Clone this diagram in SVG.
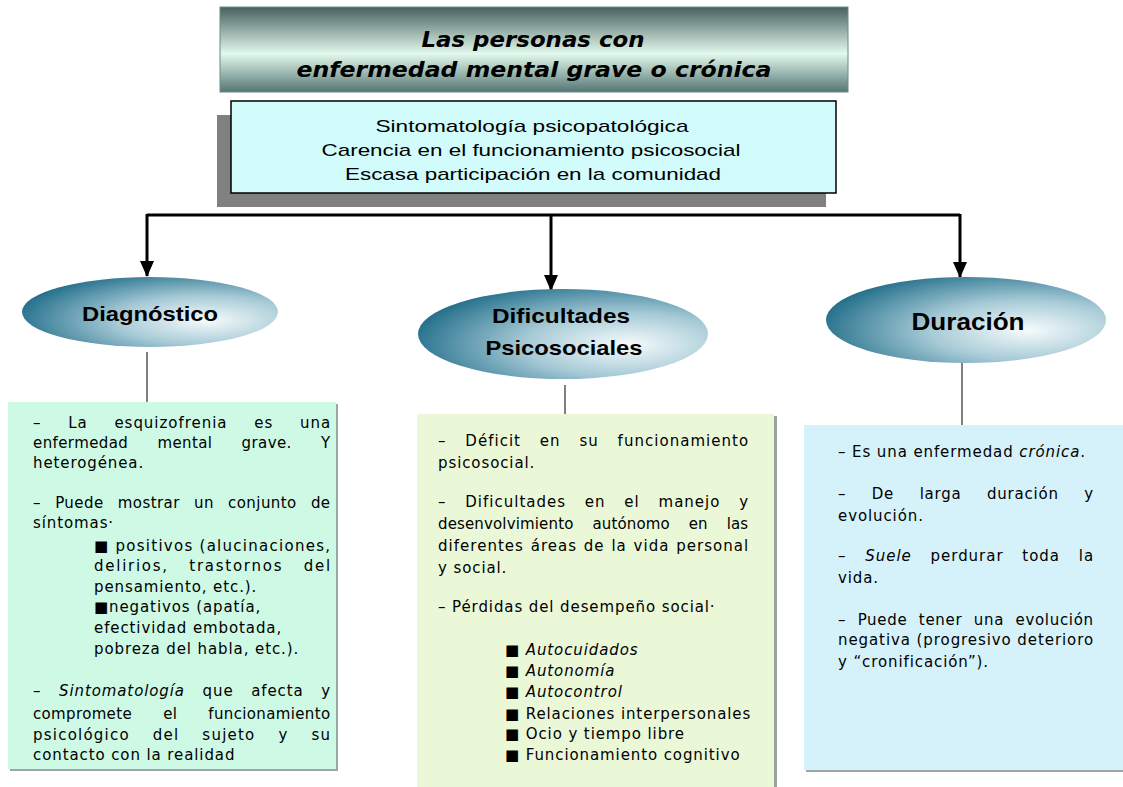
<svg xmlns="http://www.w3.org/2000/svg" width="1123" height="787" viewBox="0 0 1123 787">
<defs>
<linearGradient id="gTitle" x1="0" y1="0" x2="0" y2="1">
<stop offset="0" stop-color="#48605f"/>
<stop offset="0.55" stop-color="#e2faec"/>
<stop offset="1" stop-color="#557574"/>
</linearGradient>
<radialGradient id="gEll" cx="0.72" cy="0.62" r="0.78" fx="0.72" fy="0.62">
<stop offset="0" stop-color="#f6fbfc"/>
<stop offset="0.45" stop-color="#a6cad6"/>
<stop offset="1" stop-color="#1b6986"/>
</radialGradient>
<marker id="arrd" markerWidth="14" markerHeight="16" refX="7" refY="15" orient="0" markerUnits="userSpaceOnUse" viewBox="0 0 14 16">
<path d="M0,0 L14,0 L7,16 Z" fill="#000"/>
</marker>
</defs>
<style>
.t{font-family:"DejaVu Sans","Liberation Sans",sans-serif;font-size:15px;letter-spacing:0.9px;fill:#000}
.h{font-family:"Liberation Sans",Arial,sans-serif;font-weight:bold;fill:#000;text-anchor:middle}
.sub{font-family:"Liberation Sans",Arial,sans-serif;font-size:17px;fill:#000;text-anchor:middle}
.ttl{font-family:"DejaVu Sans","Liberation Sans",sans-serif;font-size:22px;font-weight:bold;font-style:italic;fill:#000;text-anchor:middle}
.conn{stroke:#000;stroke-width:3;fill:none}
.thin{stroke:#000;stroke-width:1;fill:none}
.i{font-style:italic}
</style>
<rect width="1123" height="787" fill="#fff"/>

<g id="title">
<rect x="220" y="7" width="628" height="85" fill="url(#gTitle)" stroke="#6f8a88" stroke-width="1"/>
<text class="ttl" x="533" y="47" textLength="223" lengthAdjust="spacingAndGlyphs">Las personas con</text>
<text class="ttl" x="534" y="77" textLength="475" lengthAdjust="spacingAndGlyphs">enfermedad mental grave o crónica</text>
</g>

<g id="summary">
<rect x="217" y="115" width="609" height="92" fill="#808080"/>
<rect x="231" y="101" width="605" height="92" fill="#d2fbfb" stroke="#000" stroke-width="1.5"/>
<text class="sub" x="532" y="132" textLength="313" lengthAdjust="spacingAndGlyphs">Sintomatología psicopatológica</text>
<text class="sub" x="531" y="156" textLength="419" lengthAdjust="spacingAndGlyphs">Carencia en el funcionamiento psicosocial</text>
<text class="sub" x="533" y="180" textLength="376" lengthAdjust="spacingAndGlyphs">Escasa participación en la comunidad</text>
</g>

<g id="connectors">
<path class="conn" d="M147,215 H960"/>
<path class="conn" d="M147,214 V276" marker-end="url(#arrd)"/>
<path class="conn" d="M551,214 V290" marker-end="url(#arrd)"/>
<path class="conn" d="M960,214 V277" marker-end="url(#arrd)"/>
<path class="thin" d="M147,352 V402"/>
<path class="thin" d="M565,385 V414"/>
<path class="thin" d="M962,362 V425"/>
</g>

<g id="diagnostico">
<ellipse cx="150" cy="312" rx="128" ry="35" fill="url(#gEll)"/>
<text class="h" x="150" y="321" font-size="21" textLength="136" lengthAdjust="spacingAndGlyphs">Diagnóstico</text>
</g>

<g id="dificultades">
<ellipse cx="563" cy="334" rx="145" ry="45" fill="url(#gEll)"/>
<text class="h" x="561" y="323" font-size="21" textLength="138" lengthAdjust="spacingAndGlyphs">Dificultades</text>
<text class="h" x="564" y="355" font-size="21" textLength="157" lengthAdjust="spacingAndGlyphs">Psicosociales</text>
</g>

<g id="duracion">
<ellipse cx="966" cy="320" rx="140" ry="43" fill="url(#gEll)"/>
<text class="h" x="968" y="330" font-size="24" textLength="113" lengthAdjust="spacingAndGlyphs">Duración</text>
</g>

<g id="box-diagnostico">
<rect x="10" y="404" width="328" height="367" fill="#9aa8a2"/>
<rect x="8" y="402" width="328" height="367" fill="#cdf9e5"/>
<text class="t" x="33" y="428" word-spacing="21" textLength="298" lengthAdjust="spacing">– La esquizofrenia es una</text>
<text class="t" x="33" y="448" word-spacing="24" textLength="298" lengthAdjust="spacing">enfermedad mental grave. Y</text>
<text class="t" x="33" y="468">heterogénea.</text>
<text class="t" x="33" y="508" word-spacing="9" textLength="298" lengthAdjust="spacing">– Puede mostrar un conjunto de</text>
<text class="t" x="33" y="528">síntomas·</text>
<text class="t" x="94" y="551" textLength="237" lengthAdjust="spacing">■ positivos (alucinaciones,</text>
<text class="t" x="94" y="571" word-spacing="14" textLength="237" lengthAdjust="spacing">delirios, trastornos del</text>
<text class="t" x="94" y="592">pensamiento, etc.).</text>
<text class="t" x="94" y="612">■negativos (apatía,</text>
<text class="t" x="94" y="633">efectividad embotada,</text>
<text class="t" x="94" y="654">pobreza del habla, etc.).</text>
<text class="t" x="33" y="696" word-spacing="12" textLength="298" lengthAdjust="spacing">– <tspan class="i">Sintomatología</tspan> que afecta y</text>
<text class="t" x="33" y="719" word-spacing="26" textLength="298" lengthAdjust="spacing">compromete el funcionamiento</text>
<text class="t" x="33" y="740" word-spacing="17" textLength="298" lengthAdjust="spacing">psicológico del sujeto y su</text>
<text class="t" x="33" y="760">contacto con la realidad</text>
</g>

<g id="box-dificultades">
<rect x="419" y="416" width="358" height="371" fill="#9aa39a"/>
<rect x="417" y="414" width="357" height="373" fill="#eaf8d8"/>
<text class="t" x="438" y="446" word-spacing="13" textLength="311" lengthAdjust="spacing">– Déficit en su funcionamiento</text>
<text class="t" x="438" y="468">psicosocial.</text>
<text class="t" x="438" y="507" word-spacing="13" textLength="311" lengthAdjust="spacing">– Dificultades en el manejo y</text>
<text class="t" x="438" y="529" word-spacing="14" textLength="311" lengthAdjust="spacing">desenvolvimiento autónomo en las</text>
<text class="t" x="438" y="551" word-spacing="1" textLength="311" lengthAdjust="spacing">diferentes áreas de la vida personal</text>
<text class="t" x="438" y="573">y social.</text>
<text class="t" x="438" y="612">– Pérdidas del desempeño social·</text>
<text class="t" x="505" y="655">■ <tspan class="i">Autocuidados</tspan></text>
<text class="t" x="505" y="676">■ <tspan class="i">Autonomía</tspan></text>
<text class="t" x="505" y="697">■ <tspan class="i">Autocontrol</tspan></text>
<text class="t" x="505" y="719">■ Relaciones interpersonales</text>
<text class="t" x="505" y="739">■ Ocio y tiempo libre</text>
<text class="t" x="505" y="760">■ Funcionamiento cognitivo</text>
</g>

<g id="box-duracion">
<rect x="806" y="427" width="317" height="345" fill="#9aa6aa"/>
<rect x="804" y="425" width="319" height="345" fill="#d5f2fb"/>
<text class="t" x="838" y="457">– Es una enfermedad <tspan class="i">crónica</tspan>.</text>
<text class="t" x="838" y="499" word-spacing="20" textLength="256" lengthAdjust="spacing">– De larga duración y</text>
<text class="t" x="838" y="521">evolución.</text>
<text class="t" x="838" y="561" word-spacing="13" textLength="256" lengthAdjust="spacing">– <tspan class="i">Suele</tspan> perdurar toda la</text>
<text class="t" x="838" y="583">vida.</text>
<text class="t" x="838" y="625" word-spacing="6" textLength="256" lengthAdjust="spacing">– Puede tener una evolución</text>
<text class="t" x="838" y="645" textLength="256" lengthAdjust="spacing">negativa (progresivo deterioro</text>
<text class="t" x="838" y="667">y “cronificación”).</text>
</g>
</svg>
